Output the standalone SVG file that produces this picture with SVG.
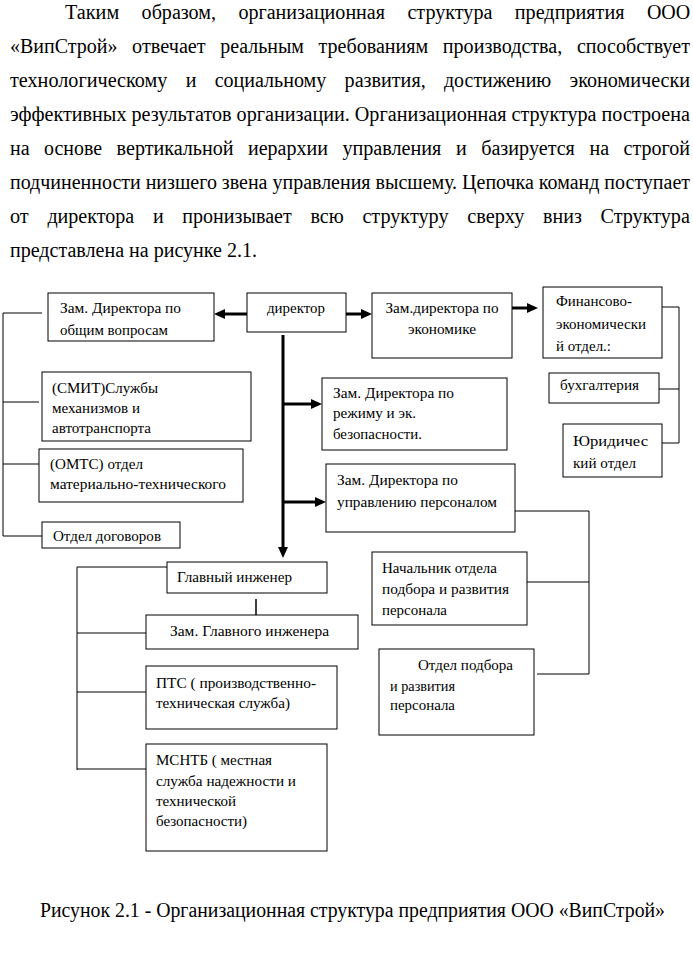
<svg xmlns="http://www.w3.org/2000/svg" width="693" height="979" viewBox="0 0 693 979">
<style>
  .bg{fill:#ffffff}
  .body{font-size:20px;fill:#000}
  .t{font-size:15px;fill:#000}
  .box{fill:#ffffff;stroke:#000;stroke-width:1}
  .thin{fill:none;stroke:#000;stroke-width:1}
  .thick{fill:none;stroke:#000;stroke-width:3}
  .mid{text-anchor:middle}
</style>
<defs>
  <marker id="ah" markerUnits="userSpaceOnUse" markerWidth="11" markerHeight="10" refX="0" refY="5" orient="auto">
    <path d="M0,0 L11,5 L0,10 z" fill="#000"/>
  </marker>
</defs>
<rect class="bg" x="0" y="0" width="693" height="979"/>

<g id="paragraph" font-family="Liberation Serif, DejaVu Serif, serif" lengthAdjust="spacingAndGlyphs">
  <text class="body" x="65" y="19" textLength="54.2" lengthAdjust="spacingAndGlyphs">Таким</text>
  <text class="body" x="141.6" y="19" textLength="74.4" lengthAdjust="spacingAndGlyphs">образом,</text>
  <text class="body" x="238.4" y="19" textLength="146.6" lengthAdjust="spacingAndGlyphs">организационная</text>
  <text class="body" x="407.4" y="19" textLength="85" lengthAdjust="spacingAndGlyphs">структура</text>
  <text class="body" x="514.8" y="19" textLength="109.7" lengthAdjust="spacingAndGlyphs">предприятия</text>
  <text class="body" x="646.9" y="19" textLength="43.3" lengthAdjust="spacingAndGlyphs">ООО</text>

  <text class="body" x="10" y="53" textLength="107.5" lengthAdjust="spacingAndGlyphs">«ВипСтрой»</text>
  <text class="body" x="132.1" y="53" textLength="73.6" lengthAdjust="spacingAndGlyphs">отвечает</text>
  <text class="body" x="220.2" y="53" textLength="83.7" lengthAdjust="spacingAndGlyphs">реальным</text>
  <text class="body" x="318.5" y="53" textLength="109.7" lengthAdjust="spacingAndGlyphs">требованиям</text>
  <text class="body" x="442.8" y="53" textLength="119.5" lengthAdjust="spacingAndGlyphs">производства,</text>
  <text class="body" x="576.9" y="53" textLength="113.1" lengthAdjust="spacingAndGlyphs">способствует</text>

  <text class="body" x="10" y="87" textLength="157.4" lengthAdjust="spacingAndGlyphs">технологическому</text>
  <text class="body" x="185.7" y="87" textLength="10.7" lengthAdjust="spacingAndGlyphs">и</text>
  <text class="body" x="214.7" y="87" textLength="111.6" lengthAdjust="spacingAndGlyphs">социальному</text>
  <text class="body" x="344.6" y="87" textLength="81.1" lengthAdjust="spacingAndGlyphs">развития,</text>
  <text class="body" x="444" y="87" textLength="107.2" lengthAdjust="spacingAndGlyphs">достижению</text>
  <text class="body" x="569.5" y="87" textLength="120.6" lengthAdjust="spacingAndGlyphs">экономически</text>

  <text class="body" x="10" y="121" textLength="680" lengthAdjust="spacingAndGlyphs">эффективных результатов организации. Организационная структура построена</text>

  <text class="body" x="10" y="155" textLength="19.6" lengthAdjust="spacingAndGlyphs">на</text>
  <text class="body" x="44.1" y="155" textLength="57.9" lengthAdjust="spacingAndGlyphs">основе</text>
  <text class="body" x="116.6" y="155" textLength="116.9" lengthAdjust="spacingAndGlyphs">вертикальной</text>
  <text class="body" x="248" y="155" textLength="79.9" lengthAdjust="spacingAndGlyphs">иерархии</text>
  <text class="body" x="342.4" y="155" textLength="99" lengthAdjust="spacingAndGlyphs">управления</text>
  <text class="body" x="456" y="155" textLength="10.7" lengthAdjust="spacingAndGlyphs">и</text>
  <text class="body" x="481.2" y="155" textLength="93.7" lengthAdjust="spacingAndGlyphs">базируется</text>
  <text class="body" x="589.5" y="155" textLength="19.6" lengthAdjust="spacingAndGlyphs">на</text>
  <text class="body" x="623.6" y="155" textLength="66.5" lengthAdjust="spacingAndGlyphs">строгой</text>

  <text class="body" x="10" y="189" textLength="680" lengthAdjust="spacingAndGlyphs">подчиненности низшего звена управления высшему. Цепочка команд поступает</text>

  <text class="body" x="10" y="223" textLength="18.7" lengthAdjust="spacingAndGlyphs">от</text>
  <text class="body" x="47.4" y="223" textLength="86.8" lengthAdjust="spacingAndGlyphs">директора</text>
  <text class="body" x="152.9" y="223" textLength="10.7" lengthAdjust="spacingAndGlyphs">и</text>
  <text class="body" x="182.3" y="223" textLength="109.4" lengthAdjust="spacingAndGlyphs">пронизывает</text>
  <text class="body" x="310.4" y="223" textLength="33.3" lengthAdjust="spacingAndGlyphs">всю</text>
  <text class="body" x="362.4" y="223" textLength="86.1" lengthAdjust="spacingAndGlyphs">структуру</text>
  <text class="body" x="467.2" y="223" textLength="57.2" lengthAdjust="spacingAndGlyphs">сверху</text>
  <text class="body" x="543.1" y="223" textLength="38.7" lengthAdjust="spacingAndGlyphs">вниз</text>
  <text class="body" x="600.5" y="223" textLength="89.4" lengthAdjust="spacingAndGlyphs">Структура</text>

  <text class="body" x="10" y="257" textLength="247" lengthAdjust="spacingAndGlyphs">представлена на рисунке 2.1.</text>
</g>

<g id="connectors">
  <line class="thick" x1="247" y1="314" x2="225" y2="314" marker-end="url(#ah)"/>
  <line class="thick" x1="346" y1="314" x2="361" y2="314" marker-end="url(#ah)"/>
  <line class="thick" x1="512" y1="308" x2="527" y2="308" marker-end="url(#ah)"/>
  <line class="thick" x1="283" y1="335" x2="283" y2="547" marker-end="url(#ah)"/>
  <line class="thick" x1="283" y1="404" x2="311" y2="404" marker-end="url(#ah)"/>
  <line class="thick" x1="283" y1="502" x2="315" y2="502" marker-end="url(#ah)"/>
  <path class="thin" d="M3,313 V536 M3,313 H42 M3,402 H39 M3,464 H39 M3,536 H42"/>
  <path class="thin" d="M679,307 V443 M662,307 H679 M659,389 H679 M662,443 H679"/>
  <path class="thin" d="M515,511 H589 V674 M527,582 H589 M537,674 H589"/>
  <path class="thin" d="M77,567 V770 M77,567 H167 M77,633 H146 M77,692 H146 M77,769 H146"/>
  <line x1="256" y1="599" x2="256" y2="615" stroke="#000" stroke-width="1.5"/>
</g>

<g id="nodes" font-family="Liberation Serif, DejaVu Serif, serif">
<g id="n-zam-general">
  <rect class="box" x="48" y="293" width="166" height="48"/>
  <text class="t" x="60" y="313" textLength="121" lengthAdjust="spacingAndGlyphs">Зам. Директора по</text>
  <text class="t" x="60" y="335" textLength="108" lengthAdjust="spacingAndGlyphs">общим вопросам</text>
</g>
<g id="n-director">
  <rect class="box" x="247" y="293" width="99" height="39"/>
  <text class="t" x="267" y="313" textLength="58" lengthAdjust="spacingAndGlyphs">директор</text>
</g>
<g id="n-zam-econ">
  <rect class="box" x="372" y="293" width="140" height="65"/>
  <text class="t mid" x="442" y="313" textLength="113" lengthAdjust="spacingAndGlyphs">Зам.директора по</text>
  <text class="t mid" x="442" y="334" textLength="68" lengthAdjust="spacingAndGlyphs">экономике</text>
</g>
<g id="n-finance">
  <rect class="box" x="543" y="287" width="119" height="71"/>
  <text class="t" x="556" y="306" textLength="76" lengthAdjust="spacingAndGlyphs">Финансово-</text>
  <text class="t" x="556" y="329" textLength="90" lengthAdjust="spacingAndGlyphs">экономически</text>
  <text class="t" x="556" y="351" textLength="55" lengthAdjust="spacingAndGlyphs">й отдел.:</text>
</g>
<g id="n-accounting">
  <rect class="box" x="549" y="373" width="110" height="30"/>
  <text class="t" x="560" y="390" textLength="79" lengthAdjust="spacingAndGlyphs">бухгалтерия</text>
</g>
<g id="n-legal">
  <rect class="box" x="563" y="424" width="99" height="53"/>
  <text class="t" x="573" y="446" textLength="75" lengthAdjust="spacingAndGlyphs">Юридичес</text>
  <text class="t" x="573" y="468" textLength="63" lengthAdjust="spacingAndGlyphs">кий отдел</text>
</g>
<g id="n-smit">
  <rect class="box" x="42" y="372" width="209" height="69"/>
  <text class="t" x="52" y="393" textLength="106" lengthAdjust="spacingAndGlyphs">(СМИТ)Службы</text>
  <text class="t" x="52" y="413" textLength="88" lengthAdjust="spacingAndGlyphs">механизмов и</text>
  <text class="t" x="52" y="433" textLength="99" lengthAdjust="spacingAndGlyphs">автотранспорта</text>
</g>
<g id="n-omts">
  <rect class="box" x="39" y="449" width="204" height="53"/>
  <text class="t" x="50" y="469" textLength="93" lengthAdjust="spacingAndGlyphs">(ОМТС) отдел</text>
  <text class="t" x="50" y="489" textLength="176" lengthAdjust="spacingAndGlyphs">материально-технического</text>
</g>
<g id="n-contracts">
  <rect class="box" x="42" y="522" width="138" height="26"/>
  <text class="t" x="53" y="541" textLength="108" lengthAdjust="spacingAndGlyphs">Отдел договоров</text>
</g>
<g id="n-zam-regime">
  <rect class="box" x="322" y="378" width="185" height="72"/>
  <text class="t" x="333" y="398" textLength="121" lengthAdjust="spacingAndGlyphs">Зам. Директора по</text>
  <text class="t" x="333" y="418" textLength="83" lengthAdjust="spacingAndGlyphs">режиму и эк.</text>
  <text class="t" x="333" y="439" textLength="89" lengthAdjust="spacingAndGlyphs">безопасности.</text>
</g>
<g id="n-zam-personnel">
  <rect class="box" x="326" y="464" width="189" height="68"/>
  <text class="t" x="337" y="485" textLength="121" lengthAdjust="spacingAndGlyphs">Зам. Директора по</text>
  <text class="t" x="337" y="507" textLength="160" lengthAdjust="spacingAndGlyphs">управлению персоналом</text>
</g>
<g id="n-head-hr">
  <rect class="box" x="372" y="552" width="155" height="73"/>
  <text class="t" x="382" y="573" textLength="115" lengthAdjust="spacingAndGlyphs">Начальник отдела</text>
  <text class="t" x="382" y="594" textLength="127" lengthAdjust="spacingAndGlyphs">подбора и развития</text>
  <text class="t" x="382" y="615" textLength="65" lengthAdjust="spacingAndGlyphs">персонала</text>
</g>
<g id="n-hr-dept">
  <rect class="box" x="379" y="649" width="155" height="86"/>
  <text class="t" x="418" y="670" textLength="95" lengthAdjust="spacingAndGlyphs">Отдел подбора</text>
  <text class="t" x="390" y="691" textLength="65" lengthAdjust="spacingAndGlyphs">и развития</text>
  <text class="t" x="390" y="710" textLength="65" lengthAdjust="spacingAndGlyphs">персонала</text>
</g>
<g id="n-chief-eng">
  <rect class="box" x="167" y="562" width="160" height="31"/>
  <text class="t" x="177" y="582" textLength="115" lengthAdjust="spacingAndGlyphs">Главный инженер</text>
</g>
<g id="n-zam-chief-eng">
  <rect class="box" x="146" y="615" width="212" height="34"/>
  <text class="t" x="170" y="636" textLength="159" lengthAdjust="spacingAndGlyphs">Зам. Главного инженера</text>
</g>
<g id="n-pts">
  <rect class="box" x="146" y="666" width="191" height="63"/>
  <text class="t" x="156" y="688" textLength="160" lengthAdjust="spacingAndGlyphs">ПТС ( производственно-</text>
  <text class="t" x="156" y="708" textLength="134" lengthAdjust="spacingAndGlyphs">техническая служба)</text>
</g>
<g id="n-msntb">
  <rect class="box" x="146" y="744" width="181" height="107"/>
  <text class="t" x="156" y="765" textLength="116" lengthAdjust="spacingAndGlyphs">МСНТБ ( местная</text>
  <text class="t" x="156" y="786" textLength="140" lengthAdjust="spacingAndGlyphs">служба надежности и</text>
  <text class="t" x="156" y="806" textLength="80" lengthAdjust="spacingAndGlyphs">технической</text>
  <text class="t" x="156" y="826" textLength="91" lengthAdjust="spacingAndGlyphs">безопасности)</text>
</g>
</g>

<text id="caption" class="body" font-family="Liberation Serif, DejaVu Serif, serif" x="40" y="917" textLength="625" lengthAdjust="spacingAndGlyphs">Рисунок 2.1 - Организационная структура предприятия ООО «ВипСтрой»</text>
</svg>
